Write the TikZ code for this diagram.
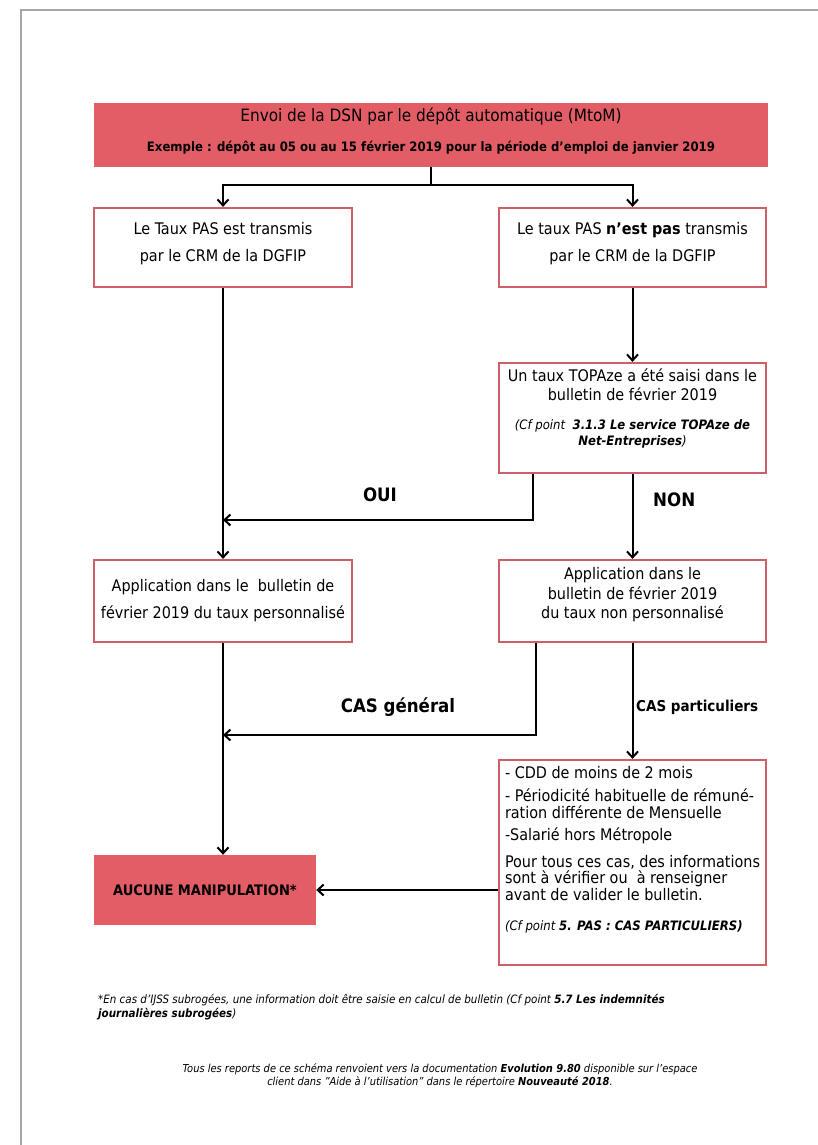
\documentclass[tikz,border=0pt]{standalone}
\usepackage{fontspec}
\setmainfont{DejaVu Sans Condensed}
\usetikzlibrary{arrows.meta,positioning}
\definecolor{boxRed}{HTML}{E35D66}
\definecolor{boxEdge}{HTML}{CF5F67}

\begin{document}
\begin{tikzpicture}
[x=1pt,y=-1pt,
  redDecorate/.style={shape=rectangle,fill=boxRed,inner sep=0pt,align=center},%
  boxDecorate/.style={shape=rectangle,draw=boxEdge,line width=2.2pt,inner sep=3pt,align=center,
    font=\fontsize{16}{27}\selectfont},%
  lineDecorate/.style={-,line width=2pt},%
  arrowDecorate/.style={-{Straight Barb[length=6pt,width=11pt,line width=2pt]},line width=2pt},%
  labelDecorate/.style={font=\fontsize{18.5}{20}\selectfont\bfseries,inner sep=0pt},%
  noteDecorate/.style={font=\fontsize{11.5}{14}\selectfont\itshape,inner sep=0pt}]
\useasboundingbox (0,0) rectangle (818,1145);
\draw[gray!70,line width=2.5pt] (21,1145) -- (21,10) -- (818,10);

%% boxes
\node (dsn) at (431,135) [redDecorate,minimum width=674,minimum height=64] {};
\node (dsntitle) [below=2pt of dsn.north,font=\fontsize{17}{20}\selectfont] {Envoi de la DSN par le dépôt automatique (MtoM)};
\node (dsnex) [below=12pt of dsntitle,font=\fontsize{13}{15}\selectfont\bfseries,inner sep=0pt] {Exemple : dépôt au 05 ou au 15 février 2019 pour la période d’emploi de janvier 2019};

\node (taux1) at (223,247.5) [boxDecorate,minimum width=258,minimum height=79,text depth=12pt] {Le Taux PAS est transmis\\par le CRM de la DGFIP};
\node (taux2) at (632.5,247.5) [boxDecorate,minimum width=267,minimum height=79,text depth=12pt] {Le taux PAS \textbf{n’est pas} transmis\\par le CRM de la DGFIP};
\node (topaze) at (632.5,418) [boxDecorate,minimum width=267,minimum height=110,text depth=21pt,
  font=\fontsize{16}{19}\selectfont] {Un taux TOPAze a été saisi dans le\\bulletin de février 2019\\[10pt]
  {\fontsize{13}{16}\selectfont\itshape (Cf point \ \textbf{3.1.3 Le service TOPAze de}}\\[-3pt]
  {\fontsize{13}{16}\selectfont\itshape\textbf{Net-Entreprises})}};
\node (app1) at (223,601) [boxDecorate,minimum width=258,minimum height=82] {Application dans le \ bulletin de\\février 2019 du taux personnalisé};
\node (app2) at (632.5,601) [boxDecorate,minimum width=267,minimum height=82,text depth=16pt,
  font=\fontsize{16}{19.5}\selectfont] {Application dans le\\bulletin de février 2019\\du taux non personnalisé};
\node (cas) at (632.5,862.5) [boxDecorate,minimum width=267,minimum height=205,align=left,text depth=28pt,
  font=\fontsize{16}{16.5}\selectfont] {- CDD de moins de 2 mois\\[7pt]
  - Périodicité habituelle de rémuné-\\ration différente de Mensuelle\\[6pt]
  -Salarié hors Métropole\\[10pt]
  Pour tous ces cas, des informations\\sont à vérifier ou \ à renseigner\\avant de valider le bulletin.\\[14pt]
  {\itshape\fontsize{13}{15}\selectfont(Cf point \textbf{5. PAS : CAS PARTICULIERS)}}};
\node (aucune) at (205,890) [redDecorate,minimum width=222,minimum height=70,
  font=\fontsize{14.5}{18}\selectfont\bfseries] {AUCUNE MANIPULATION*};

%% connectors
\coordinate (split) at (dsn.south |- 0,185);
\draw[lineDecorate] (dsn.south) -- (split);
\draw[arrowDecorate] (split) -| (taux1.north);
\draw[arrowDecorate] (split) -| (taux2.north);
\draw[arrowDecorate] (taux1.south) -- (app1.north);
\draw[arrowDecorate] (taux2.south) -- (topaze.north);

\coordinate (ouistart) at ([xshift=-99.5pt]topaze.south);
\coordinate (ouiend) at (taux1.south |- 0,520);
\draw[arrowDecorate] (ouistart) |- (ouiend);
\draw[arrowDecorate] (topaze.south) -- (app2.north);

\coordinate (genstart) at ([xshift=-96.5pt]app2.south);
\coordinate (genend) at (app1.south |- 0,735);
\draw[arrowDecorate] (genstart) |- (genend);
\draw[arrowDecorate] (app2.south) -- (cas.north);
\draw[arrowDecorate] (app1.south) -- (app1.south |- aucune.north);
\draw[arrowDecorate] (cas.west |- aucune.east) -- (aucune.east);

%% labels
\node (oui) at (380,495) [labelDecorate] {OUI};
\node (non) at (653,500) [labelDecorate,anchor=west] {NON};
\node (general) at (398,707) [labelDecorate] {CAS général};
\node (particuliers) at (636,707) [labelDecorate,anchor=west,font=\fontsize{15}{18}\selectfont\bfseries] {CAS particuliers};

%% notes
\node (renvoi) at (98,1007) [noteDecorate,anchor=west,align=left] {*En cas d'IJSS subrogées, une information doit être saisie en calcul de bulletin (Cf point \textbf{5.7 Les indemnités}\\\textbf{journalières subrogées})};
\node (reports) at (440,1076) [noteDecorate,align=center,font=\fontsize{11}{13}\selectfont\itshape] {Tous les reports de ce schéma renvoient vers la documentation \textbf{Evolution 9.80} disponible sur l'espace\\client dans "Aide à l'utilisation" dans le répertoire \textbf{Nouveauté 2018}.};
\end{tikzpicture}
\end{document}
